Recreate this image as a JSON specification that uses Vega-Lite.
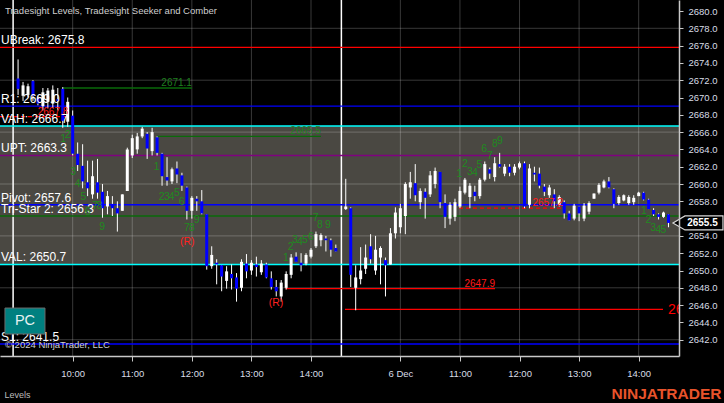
{
  "$schema": "https://vega.github.io/schema/vega-lite/v6.json",
  "width": 679,
  "height": 356,
  "autosize": {"type": "none"},
  "padding": {"left": 0, "top": 0, "right": 45, "bottom": 47},
  "background": "#000000",
  "config": {"view": {"stroke": null}, "font": "Liberation Sans", "axis": {"labelOverlap": false}},
  "resolve": {"scale": {"color": "independent", "strokeDash": "independent"}},
  "datasets": {
    "va": [{"p": 2666.7, "p2": 2650.7}],
    "hgrid": [{"p": 2642}, {"p": 2648}, {"p": 2654}, {"p": 2660}, {"p": 2666}, {"p": 2672}, {"p": 2678}],
    "vgrid": [{"m": 60}, {"m": 120}, {"m": 180}, {"m": 240}, {"m": 300}, {"m": 390}, {"m": 450}, {"m": 510}, {"m": 570}, {"m": 630}],
    "sessions": [{"m": 0}, {"m": 330.6}],
    "levels": [
      {"name": "UBreak", "p": 2675.8, "label": "UBreak: 2675.8"},
      {"name": "R1", "p": 2669.0, "label": "R1: 2669.0"},
      {"name": "VAH", "p": 2666.7, "label": "VAH: 2666.7"},
      {"name": "UPT", "p": 2663.3, "label": "UPT: 2663.3"},
      {"name": "Pivot", "p": 2657.6, "label": "Pivot: 2657.6"},
      {"name": "Tri-Star 2", "p": 2656.3, "label": "Tri-Star 2: 2656.3"},
      {"name": "VAL", "p": 2650.7, "label": "VAL: 2650.7"},
      {"name": "S1", "p": 2641.5, "label": "S1: 2641.5"}
    ],
    "segs": [
      {"m": 50.2, "m2": 180.1, "p": 2671.1, "kind": "green", "label": "2671.1"},
      {"m": 144.9, "m2": 310.0, "p": 2665.5, "kind": "green", "label": "2665.5"},
      {"m": -13.2, "m2": 55.6, "p": 2667.8, "kind": "reddash", "label": "2667.8"},
      {"m": 449.0, "m2": 553.8, "p": 2657.2, "kind": "reddash", "label": "2657.2"},
      {"m": 274.3, "m2": 485.3, "p": 2647.9, "kind": "red", "label": "2647.9"},
      {"m": 334.2, "m2": 654.5, "p": 2645.5, "kind": "red", "label": ""}
    ],
    "edge": [{"m": 659.5, "p": 2645.45, "label": "2645.5"}],
    "seek": [
      {"m": 50.5, "p": 2665.26, "t": "1", "k": "g"}, {"m": 55.0, "p": 2665.72, "t": "2", "k": "g"},
      {"m": 60.6, "p": 2661.42, "t": "3", "k": "g"}, {"m": 65.0, "p": 2660.0, "t": "4", "k": "g"},
      {"m": 70.7, "p": 2658.53, "t": "5", "k": "g"}, {"m": 75.1, "p": 2656.73, "t": "6", "k": "g"},
      {"m": 82.5, "p": 2657.46, "t": "7", "k": "g"}, {"m": 87.0, "p": 2657.46, "t": "8", "k": "g"},
      {"m": 89.8, "p": 2655.06, "t": "9", "k": "g"},
      {"m": 144.6, "p": 2661.93, "t": "1", "k": "g"}, {"m": 149.7, "p": 2658.46, "t": "2", "k": "g"},
      {"m": 154.8, "p": 2658.46, "t": "3", "k": "g"}, {"m": 159.8, "p": 2658.46, "t": "4", "k": "g"},
      {"m": 165.0, "p": 2659.0, "t": "5", "k": "g"}, {"m": 169.8, "p": 2657.95, "t": "6", "k": "g"},
      {"m": 175.1, "p": 2654.88, "t": "7", "k": "g"}, {"m": 180.1, "p": 2654.88, "t": "8", "k": "g"},
      {"m": 184.9, "p": 2655.84, "t": "9", "k": "g"}, {"m": 175.4, "p": 2653.26, "t": "(R)", "k": "r"},
      {"m": 274.8, "p": 2651.41, "t": "1", "k": "g"}, {"m": 279.5, "p": 2652.75, "t": "2", "k": "g"},
      {"m": 283.9, "p": 2653.53, "t": "3", "k": "g"}, {"m": 288.9, "p": 2653.35, "t": "4", "k": "g"},
      {"m": 294.0, "p": 2653.53, "t": "5", "k": "g"}, {"m": 300.0, "p": 2653.91, "t": "6", "k": "g"},
      {"m": 304.7, "p": 2656.03, "t": "7", "k": "g"}, {"m": 309.0, "p": 2655.26, "t": "8", "k": "g"},
      {"m": 317.1, "p": 2655.26, "t": "9", "k": "g"}, {"m": 264.7, "p": 2646.21, "t": "(R)", "k": "r"},
      {"m": 449.3, "p": 2661.12, "t": "1", "k": "g"}, {"m": 455.1, "p": 2662.28, "t": "2", "k": "g"},
      {"m": 460.1, "p": 2661.42, "t": "3", "k": "g"}, {"m": 465.1, "p": 2661.24, "t": "4", "k": "g"},
      {"m": 469.5, "p": 2662.2, "t": "5", "k": "g"}, {"m": 474.5, "p": 2664.01, "t": "6", "k": "g"},
      {"m": 480.2, "p": 2663.24, "t": "7", "k": "g"}, {"m": 485.3, "p": 2664.62, "t": "8", "k": "g"},
      {"m": 490.3, "p": 2665.0, "t": "9", "k": "g"},
      {"m": 635.3, "p": 2656.91, "t": "1", "k": "g"}, {"m": 639.7, "p": 2655.84, "t": "2", "k": "g"},
      {"m": 644.7, "p": 2654.88, "t": "3", "k": "g"}, {"m": 649.8, "p": 2654.68, "t": "4", "k": "g"},
      {"m": 654.8, "p": 2654.68, "t": "5", "k": "g"}
    ],
    "pcbox": [{"m": -8.2, "m2": 32.1, "p": 2645.66, "p2": 2642.66, "mc": 12, "pc": 2644.2, "t": "PC"}],
    "notes": [
      {"m": -8.2, "p": 2641.05, "t": "© 2024 NinjaTrader, LLC"},
      {"m": -8.2, "p": 2679.6, "t": "Tradesight Levels, Tradesight Seeker and Comber"}
    ],
    "last": [{"m": 689.7, "mt": 694.2, "p": 2655.5, "t": "2655.5"}],
    "bars": [
      {"m":5,"o":2672.2,"h":2674.4,"l":2670.3,"c":2671.0},
      {"m":10,"o":2670.2,"h":2671.8,"l":2669.6,"c":2671.4},
      {"m":15,"o":2670.3,"h":2671.6,"l":2670.0,"c":2671.3},
      {"m":20,"o":2671.9,"h":2672.0,"l":2669.6,"c":2670.2},
      {"m":25,"o":2669.9,"h":2670.2,"l":2669.1,"c":2669.3},
      {"m":30,"o":2669.0,"h":2671.1,"l":2668.5,"c":2670.6},
      {"m":35,"o":2669.5,"h":2671.1,"l":2668.8,"c":2670.8},
      {"m":40,"o":2669.3,"h":2671.4,"l":2668.8,"c":2670.9},
      {"m":45,"o":2669.8,"h":2671.1,"l":2668.5,"c":2669.6},
      {"m":50,"o":2671.0,"h":2671.2,"l":2666.5,"c":2667.3},
      {"m":55,"o":2667.2,"h":2670.0,"l":2666.6,"c":2669.5},
      {"m":60,"o":2667.9,"h":2668.5,"l":2663.3,"c":2663.5},
      {"m":65,"o":2663.5,"h":2664.8,"l":2661.5,"c":2662.2},
      {"m":70,"o":2662.1,"h":2664.6,"l":2659.5,"c":2660.3},
      {"m":75,"o":2660.2,"h":2662.7,"l":2658.6,"c":2659.5},
      {"m":80,"o":2658.8,"h":2662.7,"l":2658.3,"c":2660.9},
      {"m":85,"o":2660.2,"h":2662.9,"l":2658.3,"c":2659.0},
      {"m":90,"o":2659.1,"h":2660.0,"l":2656.1,"c":2657.2},
      {"m":95,"o":2657.4,"h":2659.2,"l":2656.5,"c":2658.6},
      {"m":100,"o":2657.7,"h":2658.6,"l":2656.3,"c":2657.2},
      {"m":105,"o":2657.2,"h":2658.0,"l":2654.5,"c":2656.6},
      {"m":110,"o":2656.9,"h":2658.8,"l":2656.9,"c":2658.8},
      {"m":115,"o":2659.2,"h":2664.2,"l":2659.2,"c":2664.0},
      {"m":120,"o":2663.3,"h":2665.7,"l":2663.0,"c":2665.3},
      {"m":125,"o":2664.0,"h":2665.9,"l":2663.5,"c":2665.5},
      {"m":130,"o":2665.5,"h":2666.6,"l":2665.3,"c":2666.4},
      {"m":135,"o":2665.8,"h":2666.0,"l":2662.9,"c":2664.1},
      {"m":140,"o":2663.8,"h":2666.5,"l":2663.3,"c":2666.0},
      {"m":145,"o":2665.4,"h":2665.5,"l":2663.3,"c":2663.6},
      {"m":150,"o":2663.5,"h":2663.6,"l":2659.8,"c":2660.9},
      {"m":155,"o":2660.8,"h":2663.1,"l":2659.8,"c":2660.4},
      {"m":160,"o":2660.3,"h":2661.9,"l":2660.0,"c":2661.7},
      {"m":165,"o":2661.8,"h":2662.6,"l":2660.1,"c":2661.1},
      {"m":170,"o":2661.0,"h":2661.3,"l":2659.2,"c":2659.8},
      {"m":175,"o":2659.6,"h":2659.7,"l":2655.9,"c":2656.9},
      {"m":180,"o":2656.9,"h":2658.6,"l":2656.0,"c":2658.4},
      {"m":185,"o":2658.3,"h":2658.6,"l":2656.9,"c":2658.0},
      {"m":190,"o":2658.0,"h":2659.3,"l":2656.5,"c":2656.6},
      {"m":195,"o":2656.5,"h":2656.5,"l":2650.1,"c":2650.5},
      {"m":200,"o":2650.5,"h":2652.8,"l":2650.2,"c":2651.8},
      {"m":205,"o":2650.9,"h":2651.3,"l":2648.4,"c":2650.7},
      {"m":210,"o":2650.6,"h":2650.6,"l":2647.6,"c":2649.3},
      {"m":215,"o":2648.8,"h":2650.5,"l":2647.9,"c":2649.9},
      {"m":220,"o":2649.6,"h":2650.7,"l":2647.8,"c":2649.1},
      {"m":225,"o":2649.2,"h":2649.7,"l":2646.4,"c":2647.9},
      {"m":230,"o":2648.0,"h":2651.3,"l":2647.6,"c":2651.0},
      {"m":235,"o":2650.8,"h":2651.9,"l":2649.1,"c":2649.9},
      {"m":240,"o":2650.0,"h":2651.2,"l":2649.5,"c":2650.9},
      {"m":245,"o":2650.7,"h":2651.6,"l":2649.3,"c":2650.4},
      {"m":250,"o":2649.8,"h":2651.2,"l":2649.5,"c":2650.8},
      {"m":255,"o":2650.7,"h":2650.9,"l":2649.1,"c":2649.2},
      {"m":260,"o":2649.1,"h":2649.9,"l":2647.8,"c":2648.1},
      {"m":265,"o":2648.1,"h":2648.9,"l":2647.0,"c":2647.6},
      {"m":270,"o":2647.0,"h":2648.9,"l":2646.4,"c":2648.6},
      {"m":275,"o":2648.0,"h":2649.9,"l":2647.8,"c":2649.6},
      {"m":280,"o":2649.5,"h":2651.9,"l":2649.1,"c":2651.5},
      {"m":285,"o":2651.6,"h":2652.1,"l":2651.0,"c":2651.0},
      {"m":290,"o":2650.9,"h":2652.0,"l":2649.9,"c":2650.6},
      {"m":295,"o":2650.8,"h":2652.0,"l":2650.6,"c":2651.8},
      {"m":300,"o":2651.6,"h":2652.6,"l":2651.4,"c":2652.4},
      {"m":305,"o":2652.8,"h":2654.5,"l":2652.6,"c":2654.2},
      {"m":310,"o":2653.5,"h":2654.3,"l":2652.8,"c":2654.1},
      {"m":315,"o":2653.7,"h":2654.0,"l":2652.2,"c":2653.5},
      {"m":320,"o":2653.5,"h":2653.7,"l":2651.6,"c":2652.4},
      {"m":325,"o":2652.6,"h":2653.0,"l":2652.2,"c":2652.2},
      {"m":335,"o":2657.1,"h":2660.6,"l":2657.0,"c":2657.4},
      {"m":340,"o":2657.2,"h":2657.3,"l":2648.1,"c":2649.5},
      {"m":345,"o":2648.0,"h":2650.6,"l":2645.4,"c":2649.2},
      {"m":350,"o":2649.0,"h":2652.7,"l":2648.4,"c":2650.0},
      {"m":355,"o":2650.2,"h":2653.0,"l":2649.6,"c":2651.5},
      {"m":360,"o":2652.8,"h":2654.2,"l":2650.8,"c":2651.3},
      {"m":365,"o":2650.0,"h":2654.0,"l":2649.5,"c":2652.4},
      {"m":370,"o":2651.5,"h":2652.8,"l":2648.4,"c":2652.6},
      {"m":375,"o":2651.2,"h":2651.5,"l":2647.0,"c":2650.6},
      {"m":380,"o":2650.7,"h":2654.9,"l":2650.7,"c":2654.3},
      {"m":385,"o":2654.3,"h":2657.3,"l":2653.7,"c":2656.7},
      {"m":390,"o":2655.0,"h":2657.7,"l":2654.3,"c":2657.2},
      {"m":395,"o":2656.3,"h":2660.2,"l":2654.2,"c":2660.0},
      {"m":400,"o":2659.6,"h":2661.4,"l":2658.3,"c":2660.2},
      {"m":405,"o":2660.1,"h":2662.3,"l":2658.0,"c":2658.7},
      {"m":410,"o":2657.9,"h":2659.5,"l":2657.1,"c":2659.2},
      {"m":415,"o":2659.1,"h":2659.5,"l":2656.0,"c":2658.4},
      {"m":420,"o":2658.8,"h":2661.5,"l":2658.5,"c":2661.0},
      {"m":425,"o":2660.0,"h":2661.9,"l":2659.5,"c":2661.5},
      {"m":430,"o":2661.4,"h":2661.4,"l":2657.2,"c":2657.9},
      {"m":435,"o":2657.8,"h":2658.8,"l":2654.9,"c":2656.2},
      {"m":440,"o":2656.0,"h":2657.9,"l":2655.3,"c":2657.6},
      {"m":445,"o":2656.2,"h":2658.3,"l":2655.7,"c":2657.9},
      {"m":450,"o":2657.4,"h":2659.7,"l":2657.2,"c":2659.2},
      {"m":455,"o":2659.0,"h":2660.7,"l":2658.8,"c":2660.5},
      {"m":460,"o":2658.5,"h":2660.1,"l":2657.2,"c":2659.8},
      {"m":465,"o":2659.1,"h":2659.8,"l":2658.0,"c":2658.6},
      {"m":470,"o":2658.6,"h":2660.7,"l":2658.3,"c":2660.5},
      {"m":475,"o":2660.5,"h":2662.6,"l":2660.3,"c":2662.3},
      {"m":480,"o":2661.7,"h":2661.9,"l":2660.6,"c":2661.2},
      {"m":485,"o":2660.8,"h":2663.1,"l":2660.3,"c":2662.4},
      {"m":490,"o":2662.3,"h":2663.6,"l":2661.9,"c":2662.0},
      {"m":495,"o":2661.2,"h":2662.3,"l":2660.9,"c":2662.0},
      {"m":500,"o":2662.0,"h":2662.3,"l":2660.9,"c":2661.3},
      {"m":505,"o":2661.3,"h":2662.3,"l":2661.0,"c":2662.0},
      {"m":510,"o":2661.9,"h":2662.6,"l":2661.7,"c":2662.4},
      {"m":515,"o":2662.4,"h":2662.6,"l":2657.2,"c":2657.4},
      {"m":520,"o":2657.6,"h":2662.3,"l":2657.2,"c":2661.8},
      {"m":525,"o":2661.3,"h":2662.0,"l":2660.3,"c":2661.1},
      {"m":530,"o":2661.2,"h":2661.9,"l":2659.5,"c":2659.8},
      {"m":535,"o":2659.7,"h":2660.0,"l":2658.6,"c":2659.1},
      {"m":540,"o":2658.7,"h":2659.9,"l":2658.4,"c":2659.6},
      {"m":545,"o":2658.8,"h":2659.4,"l":2657.2,"c":2658.0},
      {"m":550,"o":2657.6,"h":2658.7,"l":2657.4,"c":2658.5},
      {"m":555,"o":2657.9,"h":2658.1,"l":2656.0,"c":2656.6},
      {"m":560,"o":2656.6,"h":2656.9,"l":2655.8,"c":2655.8},
      {"m":565,"o":2656.0,"h":2657.7,"l":2655.8,"c":2657.5},
      {"m":570,"o":2657.4,"h":2657.4,"l":2655.7,"c":2656.6},
      {"m":575,"o":2656.0,"h":2657.8,"l":2655.7,"c":2657.5},
      {"m":580,"o":2656.8,"h":2658.0,"l":2656.5,"c":2657.8},
      {"m":585,"o":2658.3,"h":2658.9,"l":2658.3,"c":2658.9},
      {"m":590,"o":2659.0,"h":2660.1,"l":2658.8,"c":2659.9},
      {"m":595,"o":2659.6,"h":2660.5,"l":2659.5,"c":2660.3},
      {"m":600,"o":2660.3,"h":2660.8,"l":2659.5,"c":2659.6},
      {"m":605,"o":2659.4,"h":2659.5,"l":2657.2,"c":2657.7},
      {"m":610,"o":2657.8,"h":2658.7,"l":2657.6,"c":2658.5},
      {"m":615,"o":2658.1,"h":2658.8,"l":2658.0,"c":2658.7},
      {"m":620,"o":2657.8,"h":2658.7,"l":2657.6,"c":2658.5},
      {"m":625,"o":2657.9,"h":2658.7,"l":2657.6,"c":2658.4},
      {"m":630,"o":2658.6,"h":2659.1,"l":2658.6,"c":2659.0},
      {"m":635,"o":2659.0,"h":2659.1,"l":2658.1,"c":2658.2},
      {"m":640,"o":2658.2,"h":2658.3,"l":2657.1,"c":2657.1},
      {"m":645,"o":2657.0,"h":2657.2,"l":2656.3,"c":2656.5},
      {"m":650,"o":2656.5,"h":2656.6,"l":2655.9,"c":2656.2},
      {"m":655,"o":2656.2,"h":2656.8,"l":2656.1,"c":2656.7},
      {"m":660,"o":2656.5,"h":2656.5,"l":2655.0,"c":2655.5}
    ]
  },
  "layer": [
    {
      "data": {"name": "va"},
      "mark": {"type": "rect", "color": "#4a4842"},
      "encoding": {
        "y": {"field": "p", "type": "quantitative", "scale": {"domain": [2640.116, 2681.272], "nice": false, "zero": false}},
        "y2": {"field": "p2"}
      }
    },
    {
      "data": {"name": "hgrid"},
      "mark": {"type": "rule", "color": "#ffffff", "opacity": 0.22, "strokeWidth": 1},
      "encoding": {
        "y": {"field": "p", "type": "quantitative", "scale": {"domain": [2640.116, 2681.272], "nice": false, "zero": false},
          "axis": {"orient": "right", "zindex": 1, "tickCount": 40, "values": [2642, 2644, 2646, 2648, 2650, 2652, 2654, 2658, 2660, 2662, 2664, 2666, 2668, 2670, 2672, 2674, 2676, 2678, 2680],
            "format": ".1f", "grid": false, "domain": true, "domainColor": "#c8c8c8", "domainWidth": 1.5, "ticks": true, "tickColor": "#c8c8c8", "tickSize": 4,
            "labels": true, "labelColor": "#d8dde6", "labelFontSize": 9.5, "labelPadding": 5, "labelFlush": false, "labelOverlap": false,
            "title": "NINJATRADER", "titleAngle": 0, "titleX": 42, "titleY": 398, "titleAlign": "right", "titleBaseline": "alphabetic",
            "titleFontSize": 15.5, "titleFontWeight": "bold", "titleFont": "Liberation Sans", "titleColor": "#e8532b"}}
      }
    },
    {
      "data": {"name": "vgrid"},
      "mark": {"type": "rule", "color": "#ffffff", "opacity": 0.22, "strokeWidth": 1},
      "encoding": {
        "x": {"field": "m", "type": "quantitative", "scale": {"domain": [-13.2, 670.6], "nice": false, "zero": false, "padding": 0},
          "axis": {"orient": "bottom", "zindex": 1, "tickCount": 40, "values": [60, 120, 180, 240, 300, 390, 450, 510, 570, 630],
            "labelExpr": "datum.value == 390 ? '6 Dec' : (datum.value < 330 ? 9 + datum.value / 60 : 9 + (datum.value - 330) / 60) + ':00'",
            "grid": false, "domain": true, "domainColor": "#c8c8c8", "domainWidth": 1.5, "ticks": true, "tickColor": "#c8c8c8", "tickSize": 5,
            "labels": true, "labelColor": "#d8dde6", "labelFontSize": 9.5, "labelPadding": 7, "labelFlush": false, "labelOverlap": false,
            "title": "Levels", "titleX": 4, "titleY": 41, "titleAlign": "left", "titleBaseline": "alphabetic",
            "titleFontSize": 9, "titleFontWeight": "normal", "titleColor": "#bdbdbd"}}
      }
    },
    {
      "data": {"name": "sessions"},
      "mark": {"type": "rule", "color": "#ffffff", "strokeWidth": 1.5},
      "encoding": {
        "x": {"field": "m", "type": "quantitative", "scale": {"domain": [-13.2, 670.6], "nice": false, "zero": false, "padding": 0}}
      }
    },
    {
      "data": {"name": "levels"},
      "mark": {"type": "rule", "strokeWidth": 1.4},
      "encoding": {
        "y": {"field": "p", "type": "quantitative", "scale": {"domain": [2640.116, 2681.272], "nice": false, "zero": false}},
        "color": {"field": "name", "type": "nominal", "legend": null,
          "scale": {"domain": ["UBreak", "R1", "VAH", "UPT", "Pivot", "Tri-Star 2", "VAL", "S1"],
                    "range": ["#ff0000", "#0000ff", "#00ffff", "#800080", "#0000ff", "#0a6a0a", "#00ffff", "#0000ff"]}}
      }
    },
    {
      "data": {"name": "segs"},
      "mark": {"type": "rule", "strokeWidth": 1.3},
      "encoding": {
        "x": {"field": "m", "type": "quantitative", "scale": {"domain": [-13.2, 670.6], "nice": false, "zero": false, "padding": 0}},
        "x2": {"field": "m2"},
        "y": {"field": "p", "type": "quantitative", "scale": {"domain": [2640.116, 2681.272], "nice": false, "zero": false}},
        "color": {"field": "kind", "type": "nominal", "legend": null, "scale": {"domain": ["green", "reddash", "red"], "range": ["#0a6a0a", "#ff0000", "#ff0000"]}},
        "strokeDash": {"field": "kind", "type": "nominal", "legend": null, "scale": {"domain": ["green", "reddash", "red"], "range": [[1, 0], [4, 3], [1, 0]]}}
      }
    },
    {
      "data": {"name": "bars"},
      "mark": {"type": "rule", "color": "#ffffff", "strokeWidth": 1},
      "encoding": {
        "x": {"field": "m", "type": "quantitative", "scale": {"domain": [-13.2, 670.6], "nice": false, "zero": false, "padding": 0}},
        "y": {"field": "h", "type": "quantitative", "scale": {"domain": [2640.116, 2681.272], "nice": false, "zero": false}},
        "y2": {"field": "l"}
      }
    },
    {
      "data": {"name": "bars"},
      "mark": {"type": "bar", "width": 3},
      "encoding": {
        "x": {"field": "m", "type": "quantitative", "scale": {"domain": [-13.2, 670.6], "nice": false, "zero": false, "padding": 0}},
        "y": {"field": "o", "type": "quantitative", "scale": {"domain": [2640.116, 2681.272], "nice": false, "zero": false}},
        "y2": {"field": "c"},
        "color": {"condition": {"test": "datum.c < datum.o", "value": "#0000ff"}, "value": "#ffffff"}
      }
    },
    {
      "data": {"name": "segs"},
      "transform": [{"filter": "datum.label != ''"}],
      "mark": {"type": "text", "align": "right", "baseline": "alphabetic", "dy": -2, "fontSize": 10},
      "encoding": {
        "x": {"field": "m2", "type": "quantitative", "scale": {"domain": [-13.2, 670.6], "nice": false, "zero": false, "padding": 0}},
        "y": {"field": "p", "type": "quantitative", "scale": {"domain": [2640.116, 2681.272], "nice": false, "zero": false}},
        "text": {"field": "label"},
        "color": {"field": "kind", "type": "nominal", "legend": null, "scale": {"domain": ["green", "reddash", "red"], "range": ["#1f7f1f", "#ff1a1a", "#ff1a1a"]}}
      }
    },
    {
      "data": {"name": "levels"},
      "mark": {"type": "text", "align": "left", "baseline": "alphabetic", "dx": 1, "dy": -3, "fontSize": 12, "color": "#ffffff"},
      "encoding": {
        "x": {"datum": -13.2, "type": "quantitative", "scale": {"domain": [-13.2, 670.6], "nice": false, "zero": false, "padding": 0}},
        "y": {"field": "p", "type": "quantitative", "scale": {"domain": [2640.116, 2681.272], "nice": false, "zero": false}},
        "text": {"field": "label"}
      }
    },
    {
      "data": {"name": "seek"},
      "mark": {"type": "text", "align": "center", "baseline": "middle", "fontSize": 10.5},
      "encoding": {
        "x": {"field": "m", "type": "quantitative", "scale": {"domain": [-13.2, 670.6], "nice": false, "zero": false, "padding": 0}},
        "y": {"field": "p", "type": "quantitative", "scale": {"domain": [2640.116, 2681.272], "nice": false, "zero": false}},
        "text": {"field": "t"},
        "color": {"field": "k", "type": "nominal", "legend": null, "scale": {"domain": ["g", "r"], "range": ["#1f8a1f", "#ff2020"]}}
      }
    },
    {
      "data": {"name": "edge"},
      "mark": {"type": "text", "align": "left", "baseline": "middle", "fontSize": 14, "color": "#ff0000", "clip": true},
      "encoding": {
        "x": {"field": "m", "type": "quantitative", "scale": {"domain": [-13.2, 670.6], "nice": false, "zero": false, "padding": 0}},
        "y": {"field": "p", "type": "quantitative", "scale": {"domain": [2640.116, 2681.272], "nice": false, "zero": false}},
        "text": {"field": "label"}
      }
    },
    {
      "data": {"name": "pcbox"},
      "mark": {"type": "rect", "fill": "#008080", "stroke": "#6b6b6b", "strokeWidth": 1},
      "encoding": {
        "x": {"field": "m", "type": "quantitative", "scale": {"domain": [-13.2, 670.6], "nice": false, "zero": false, "padding": 0}},
        "x2": {"field": "m2"},
        "y": {"field": "p", "type": "quantitative", "scale": {"domain": [2640.116, 2681.272], "nice": false, "zero": false}},
        "y2": {"field": "p2"}
      }
    },
    {
      "data": {"name": "pcbox"},
      "mark": {"type": "text", "align": "center", "baseline": "middle", "fontSize": 14.5, "color": "#e6f2f2"},
      "encoding": {
        "x": {"field": "mc", "type": "quantitative", "scale": {"domain": [-13.2, 670.6], "nice": false, "zero": false, "padding": 0}},
        "y": {"field": "pc", "type": "quantitative", "scale": {"domain": [2640.116, 2681.272], "nice": false, "zero": false}},
        "text": {"field": "t"}
      }
    },
    {
      "data": {"name": "notes"},
      "mark": {"type": "text", "align": "left", "baseline": "alphabetic", "fontSize": 9.5, "color": "#cfcfcf"},
      "encoding": {
        "x": {"field": "m", "type": "quantitative", "scale": {"domain": [-13.2, 670.6], "nice": false, "zero": false, "padding": 0}},
        "y": {"field": "p", "type": "quantitative", "scale": {"domain": [2640.116, 2681.272], "nice": false, "zero": false}},
        "text": {"field": "t"}
      }
    },
    {
      "data": {"name": "last"},
      "mark": {"type": "point", "shape": "M-1,0L-0.52,-0.28L1,-0.28L1,0.28L-0.52,0.28Z", "size": 2500, "filled": true, "fill": "#000000", "stroke": "#d8d8d8", "strokeWidth": 1.2, "opacity": 1},
      "encoding": {
        "x": {"field": "m", "type": "quantitative", "scale": {"domain": [-13.2, 670.6], "nice": false, "zero": false, "padding": 0}},
        "y": {"field": "p", "type": "quantitative", "scale": {"domain": [2640.116, 2681.272], "nice": false, "zero": false}}
      }
    },
    {
      "data": {"name": "last"},
      "mark": {"type": "text", "align": "center", "baseline": "middle", "fontSize": 10, "fontWeight": "bold", "color": "#ffffff"},
      "encoding": {
        "x": {"field": "mt", "type": "quantitative", "scale": {"domain": [-13.2, 670.6], "nice": false, "zero": false, "padding": 0}},
        "y": {"field": "p", "type": "quantitative", "scale": {"domain": [2640.116, 2681.272], "nice": false, "zero": false}},
        "text": {"field": "t"}
      }
    }
  ]
}
